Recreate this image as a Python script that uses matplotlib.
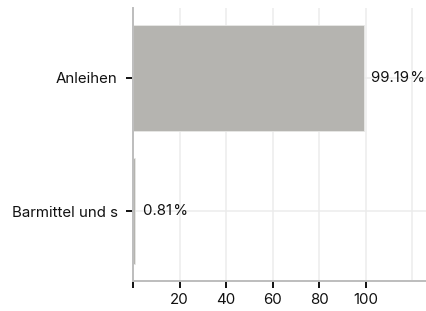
import matplotlib
matplotlib.use('Agg')
import matplotlib.pyplot as plt

# data
categories = ['Anleihen', 'Barmittel und s']
values = [99.19, 0.81]
xticks = [0, 20, 40, 60, 80, 100]
xticklabels = ['', '20', '40', '60', '80', '100']

plt.rcParams['font.family'] = ['Inter', 'DejaVu Sans']

fig = plt.figure(figsize=(4.26, 3.11), dpi=100)
ax = fig.add_axes([133 / 426, 1 - 281 / 311, 1 - 133 / 426, 273 / 311])

ypos = [1, 0]
ax.barh(ypos, values, height=0.8, color='#b5b4b0', edgecolor='#e8e8e6', linewidth=0.6, zorder=2)

for y, v in zip(ypos, values):
    ax.annotate('{:.2f}\u200a%'.format(v), xy=(v, y), xytext=(5.5, 0), textcoords='offset points',
                ha='left', va='center', fontsize=10.8, color='#111111')

ax.set_xlim(0, 126)
ax.set_ylim(-0.526, 1.526)
ax.set_yticks(ypos)
ax.set_yticklabels(categories, fontsize=10.8, color='#111111')
ax.set_xticks(xticks)
ax.set_xticklabels(xticklabels, fontsize=10.8, color='#111111')

ax.grid(True, color='#ececec', linewidth=1.1, zorder=0)
ax.axvline(120, color='#ececec', linewidth=1.1, zorder=0)
ax.set_axisbelow(True)
ax.tick_params(axis='both', length=5, width=1.4, color='#111111')
ax.tick_params(axis='y', pad=6)
ax.tick_params(axis='x', pad=4)
for side in ['top', 'right']:
    ax.spines[side].set_visible(False)
for side in ['left', 'bottom']:
    ax.spines[side].set_color('#bdbdbd')
    ax.spines[side].set_linewidth(1.4)

fig.savefig('out.png', dpi=100)
